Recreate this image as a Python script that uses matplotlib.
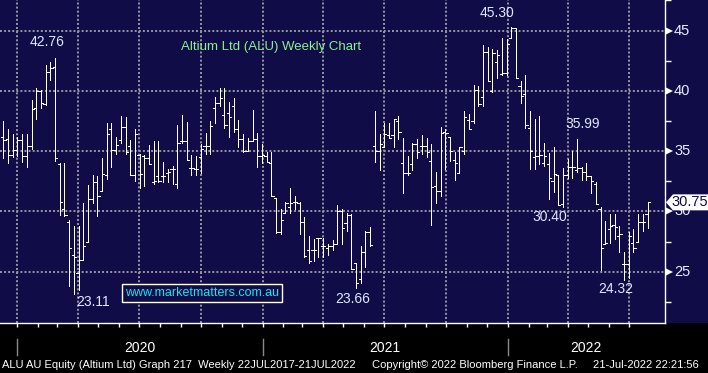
import numpy as np
import pandas as pd
import matplotlib
matplotlib.use('Agg')
import matplotlib.pyplot as plt
import matplotlib.dates as mdates
import matplotlib.transforms as mtrans
from matplotlib.collections import LineCollection
from matplotlib.patches import Polygon, Rectangle

plt.rcParams['font.family'] = ['Liberation Sans', 'DejaVu Sans']

# ---------------- data (weekly OHLC, Altium Ltd) ----------------
start_date = '2019-12-12'
opens = [36.2,36.0,34.7,35.1,35.9,34.6,35.4,38.6,40.0,38.9,41.6,42.0,33.9,30.2,29.1,26.4,24.9,26.0,27.5,31.0,32.4,31.7,33.0,36.8,
         35.1,35.9,37.0,35.4,33.0,34.7,34.6,34.4,32.4,32.9,32.9,33.2,33.5,32.3,35.8,35.8,33.6,33.5,34.5,35.4,35.4,38.6,39.0,
         38.0,38.2,38.7,36.8,36.0,35.0,35.8,36.0,34.6,34.6,34.0,31.1,28.3,29.9,30.4,30.8,30.7,29.1,26.8,26.8,27.8,27.1,27.0,
         27.1,27.3,30.0,29.0,29.7,25.7,24.4,26.6,28.3,35.4,35.0,35.3,36.3,36.3,37.5,34.0,33.2,33.9,35.6,35.4,35.4,34.2,32.1,31.7,
         36.6,36.2,34.3,33.2,35.0,37.6,37.5,40.1,39.5,43.2,40.0,42.4,41.4,41.5,44.4,45.2,40.4,39.7,36.9,34.5,34.6,34.0,33.9,
         32.5,33.0,30.6,33.0,33.7,33.4,33.6,33.3,32.9,32.3,30.2,27.3,28.5,28.9,28.0,25.6,25.6,27.4,27.5,29.1,29.8]
highs = [37.5,36.8,36.4,36.2,36.4,36.4,39.2,40.2,40.1,42.1,42.4,42.76,34.0,34.0,29.3,28.8,28.8,30.7,32.2,33.0,32.9,34.4,37.3,37.3,
         36.2,37.9,37.8,35.9,36.8,34.8,34.7,35.5,35.8,35.8,34.1,33.5,33.8,37.2,38.0,37.4,34.7,34.6,35.6,36.5,37.5,39.5,40.2,
         40.2,39.1,39.4,37.6,36.4,36.1,38.4,36.5,35.6,34.9,34.9,31.1,30.2,30.8,31.9,31.3,30.8,29.5,28.0,27.7,27.8,27.8,27.3,
         27.6,30.5,30.2,29.9,29.8,25.7,27.1,28.4,28.7,38.3,36.4,37.3,37.3,37.7,37.9,36.1,34.6,35.7,36.0,36.3,36.1,35.6,33.3,37.0,
         36.8,36.2,34.9,35.3,38.3,38.1,40.5,40.4,43.8,43.6,43.5,43.4,44.35,44.3,45.30,45.2,40.8,41.3,38.3,37.7,37.9,35.7,34.85,
         35.3,33.0,33.6,34.35,35.0,35.99,33.7,34.0,32.9,32.4,30.4,29.2,29.75,29.8,28.8,26.6,28.3,28.56,29.8,29.75,30.76]
lows = [34.4,34.0,34.5,34.6,34.1,33.7,35.2,37.7,38.6,38.8,40.9,34.2,29.7,29.6,23.8,23.11,23.5,26.0,27.5,30.7,29.6,31.7,32.7,33.7,
        34.8,35.7,34.8,33.0,32.5,31.9,32.1,33.9,32.3,32.4,32.4,32.4,32.3,31.9,35.7,34.3,33.0,33.0,33.2,34.8,34.8,37.3,38.7,
        36.9,36.2,36.6,35.3,34.9,35.0,35.8,33.7,34.0,34.1,31.3,28.2,28.1,29.9,29.9,30.2,28.1,26.2,25.75,25.9,26.2,26.2,26.4,
        26.8,27.3,27.3,28.4,25.2,23.66,24.1,25.4,27.1,34.1,33.4,35.3,36.1,35.3,36.0,31.5,33.05,33.4,34.4,34.8,34.5,28.9,30.7,31.3,
        33.5,34.2,32.6,33.2,34.8,36.8,37.3,38.7,38.7,40.8,39.9,41.05,41.3,41.3,44.35,41.05,39.0,36.9,33.5,33.5,33.9,33.75,31.0,
        31.6,30.5,30.4,32.8,32.8,33.3,32.6,32.6,31.5,30.6,25.1,27.3,27.35,27.7,26.6,24.32,24.5,26.6,27.5,28.4,28.6]
closes = [35.9,34.7,35.1,35.9,34.6,35.4,38.5,40.0,39.0,41.6,41.9,34.4,30.8,29.7,27.0,26.2,26.0,27.1,31.0,32.4,31.3,33.1,36.4,35.1,
          35.5,37.0,34.9,33.0,36.4,33.1,34.4,33.9,32.5,32.5,32.9,33.3,33.5,35.7,35.8,34.3,33.6,33.5,35.2,35.4,37.1,39.0,39.4,
          37.2,37.8,36.8,36.0,35.0,35.8,36.0,34.6,34.7,34.1,31.3,28.3,29.3,30.7,30.7,30.8,29.1,26.3,25.9,26.8,27.8,27.1,27.1,
          27.3,30.0,28.6,29.7,25.2,24.1,26.6,28.3,27.2,35.0,35.6,36.4,36.1,37.7,36.6,33.2,33.2,35.6,34.9,35.4,34.9,32.0,31.7,36.5,
          36.5,35.0,34.0,35.3,37.8,36.8,40.1,38.9,43.2,40.8,43.1,43.0,41.5,43.9,45.2,41.1,39.6,37.2,35.0,34.6,34.7,34.6,32.8,
          33.1,30.5,33.0,33.7,33.7,33.6,33.3,32.9,32.5,30.6,27.0,27.4,28.8,28.7,28.1,25.6,28.0,27.0,29.1,29.1,30.75]

# labelled extremes: (bar index, value kind, label, offset px)
callouts = [(11, 'high', '42.76', (-8, 16)),
            (15, 'low', '23.11', (19, -8)),
            (75, 'low', '23.66', (-3, -11)),
            (108, 'high', '45.30', (-14, 14)),
            (119, 'low', '30.40', (-13, -10)),
            (122, 'high', '35.99', (6, 15)),
            (132, 'low', '24.32', (-8, -9))]

y_major = [25, 30, 35, 40, 45]
y_minor = [22.5, 27.5, 32.5, 37.5, 42.5, 47.5]
title = 'Altium Ltd (ALU) Weekly Chart'
footer = ['ALU AU Equity (Altium Ltd) Graph 217  Weekly 22JUL2017-21JUL2022',
          'Copyright\u00a9 2022 Bloomberg Finance L.P.',
          '21-Jul-2022 22:21:56']

# ---------------- figure ----------------
W, H = 708, 373
navy = '#0f0c48'
fig = plt.figure(figsize=(W / 100, H / 100), dpi=100, facecolor='black')
plot_bottom_px = 322.7
plot_right_px = 665
ax = fig.add_axes([0, (H - plot_bottom_px) / H, plot_right_px / W, plot_bottom_px / H])
ax.set_facecolor(navy)
fig.add_artist(Rectangle((plot_right_px / W, (H - plot_bottom_px) / H), (W - plot_right_px) / W,
                         plot_bottom_px / H, transform=fig.transFigure, facecolor=navy,
                         edgecolor='none', zorder=-5))

dates = pd.date_range(start_date, periods=len(closes), freq='7D')
xd = mdates.date2num(dates)
x0 = xd[0]
ax.set_xlim(x0 - 4.9, x0 + 984.9)
ax.set_ylim(20.77, 47.53)

# grid
grid_col = '#9797a3'
for y in y_major:
    ax.axhline(y, color=grid_col, lw=1.4, ls=(0, (1, 1.1)), zorder=1)
quarters = pd.date_range('2020-01-01', '2022-07-01', freq='QS')
for q in quarters:
    ax.axvline(mdates.date2num(q), color=grid_col, lw=1.4, ls=(0, (1, 1.1)), zorder=1)

# OHLC bars
tw = 3.3
segs = []
for x, o, h, l, c in zip(xd, opens, highs, lows, closes):
    segs.append([(x, l), (x, h)])
    segs.append([(x - tw, o), (x, o)])
    segs.append([(x, c), (x + tw, c)])
ax.add_collection(LineCollection(segs, colors='white', linewidths=0.72, antialiaseds=False, zorder=3))

# spines
for s in ['top', 'left']:
    ax.spines[s].set_visible(False)
for s in ['right', 'bottom']:
    ax.spines[s].set_color('white')
    ax.spines[s].set_linewidth(1.0)

# y axis ticks
ax.yaxis.tick_right()
ax.set_yticks(y_major)
ax.set_yticklabels([])
ax.set_yticks(y_minor, minor=True)
ax.tick_params(axis='y', which='major', length=0)
ax.tick_params(axis='y', which='minor', length=4, width=1, color='white', direction='out')
bl = mtrans.blended_transform_factory(ax.transAxes, ax.transData)
for y in y_major:
    ax.plot([1 + 4 / plot_right_px], [y], marker='>', ms=5.5, color='white', mew=0,
            transform=bl, clip_on=False, zorder=4)
    ax.text(1 + 9 / plot_right_px, y, str(y), transform=bl, ha='left', va='center',
            color='#e6ebff', fontsize=10.5, zorder=4, clip_on=False)

# x axis ticks (monthly)
months = pd.date_range('2020-01-01', '2022-07-01', freq='MS')
ax.set_xticks(mdates.date2num(months))
ax.set_xticklabels([])
ax.tick_params(axis='x', which='major', length=3, width=1, color='white', direction='out')

# year separators and labels
blx = mtrans.blended_transform_factory(ax.transData, fig.transFigure)
xmin, xmax = ax.get_xlim()
for yr in [2020, 2021, 2022]:
    ys = mdates.date2num(pd.Timestamp(f'{yr}-01-01'))
    ye = mdates.date2num(pd.Timestamp(f'{yr + 1}-01-01'))
    ax.plot([ys, ys], [(H - 355) / H, (H - 339) / H], color='#8a8a8a', lw=1,
            transform=blx, clip_on=False)
    xc = (max(ys, xmin) + min(ye, xmax)) / 2
    ax.text(xc, (H - 348) / H, str(yr), transform=blx, ha='center', va='center',
            color='white', fontsize=10)

# callouts
for idx, kind, lab, (dx, dy) in callouts:
    val = highs[idx] if kind == 'high' else lows[idx]
    ax.annotate(lab, xy=(xd[idx], val), xytext=(dx * 0.72, dy * 0.72),
                textcoords='offset points', ha='center', va='center',
                color='#e0e7ff', fontsize=10, zorder=5)

# title
ax.text(181 / plot_right_px, 1 - 47 / plot_bottom_px, title, transform=ax.transAxes,
        ha='left', va='center', color='#8cf08c', fontsize=9.5, zorder=5)

# watermark box
ax.text(202 / plot_right_px, 1 - 293 / plot_bottom_px, 'www.marketmatters.com.au',
        transform=ax.transAxes, ha='center', va='center', color='#18e4f4', fontsize=9,
        zorder=6, bbox=dict(boxstyle='square,pad=0.22', facecolor=navy, edgecolor='white', lw=1))

# last price tag
last = closes[-1]
hh = 8 / 12.06
px = lambda p: p / plot_right_px
tag = Polygon([(px(666), last), (px(673), last + hh), (px(708), last + hh),
               (px(708), last - hh), (px(673), last - hh)], closed=True,
              transform=bl, facecolor='white', edgecolor='none', clip_on=False, zorder=10)
ax.add_patch(tag)
ax.text(px(690), last, f'{last:.2f}', transform=bl, ha='center', va='center',
        color=navy, fontsize=10.5, zorder=11, clip_on=False)

# footer
fy = (H - 365) / H
for xpx, s in zip([2, 372, 593], footer):
    fig.text(xpx / W, fy, s, ha='left', va='center', color='white', fontsize=8)

fig.savefig('out.png', dpi=100, facecolor='black')
